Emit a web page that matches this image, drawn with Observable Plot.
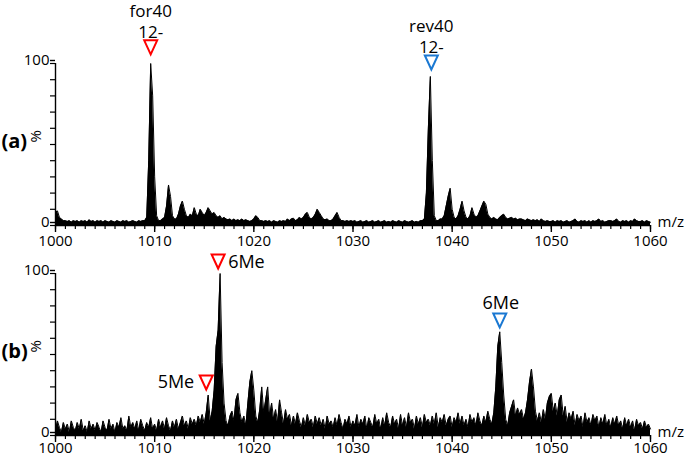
<!DOCTYPE html>
<html>
<head>
<meta charset="utf-8">
<script src="https://cdn.jsdelivr.net/npm/d3@7"></script>
<script src="https://cdn.jsdelivr.net/npm/@observablehq/plot@0.6"></script>
<style>
  html, body { margin: 0; padding: 0; background: white; }
  #chart { width: 685px; height: 457px; overflow: hidden; }
  #chart svg { display: block; overflow: visible; }
</style>
</head>
<body>
<div id="chart"></div>
<script>
// ---- data ----
const mzStart = 1000;
const mzStep = 0.2;

// Panel (a): relative intensity (%) every 0.2 m/z from 1000 to 1060
const intensityA = [
  8,9,5,4,3,          // 1000
  3,2.5,3,2,3,        // 1001
  2.5,3,2,3,2.5,      // 1002
  3,2,3.5,2.5,3,      // 1003
  2,3,2.5,3,2,        // 1004
  3,2.5,2,3,2.5,      // 1005
  2,3,2.5,2,3,        // 1006
  2.5,3,2,2.5,3,      // 1007
  2.5,2,3,2.5,3,      // 1008
  3,5,40,100,80,      // 1009
  30,6,3,3,4,         // 1010
  5,12,25,18,6,       // 1011
  4,4,7,12,15,        // 1012
  10,6,5,7,6,         // 1013
  11,7,6,10,8,        // 1014
  6,8,11,9,7,         // 1015
  8,6,5,6,4,          // 1016
  5,4,3.5,4,3,        // 1017
  4,3,3.5,3,4,        // 1018
  3,3.5,3,2.5,3,      // 1019
  4,6,5,3,3,          // 1020
  2.5,3,2.5,3,2,      // 1021
  3,2.5,2,3,2.5,      // 1022
  3,2.5,4,3,4,        // 1023
  4.5,3,3.5,5,4,      // 1024
  5,7,8,5,4,          // 1025
  5,7,10,8,6,         // 1026
  4,3.5,4,3,3,        // 1027
  4,6,8,5,3,          // 1028
  3,2.5,3,2.5,3,      // 1029
  2.5,3,2,2.5,3,      // 1030
  2,2.5,3,2,2.5,      // 1031
  3,2,2.5,3,2,        // 1032
  2.5,3,2,2.5,2,      // 1033
  3,2.5,2,3,2.5,      // 1034
  2,3,2.5,2,2.5,      // 1035
  3,2,2.5,2,3,        // 1036
  3,4,20,60,92,       // 1037
  40,6,3,3,4,         // 1038
  4,6,12,18,23,       // 1039
  10,5,4,6,10,        // 1040
  15,9,5,4,6,         // 1041
  11,7,5,6,9,         // 1042
  12,15,13,7,5,       // 1043
  4,5,4,3.5,5,        // 1044
  6,7,5,4,4.5,        // 1045
  5,4,4.5,3.5,4,      // 1046
  4,3.5,3,4,3.5,      // 1047
  3,3.5,3,3.5,2.5,    // 1048
  4,3,2.5,3,2.5,      // 1049
  2.5,3,2,3,2.5,      // 1050
  3,2,2.5,3,2,        // 1051
  2.5,3,4,2.5,2,      // 1052
  3,2.5,3,2,3,        // 1053
  2,3,2.5,3,4,        // 1054
  2.5,3,2,2.5,3,      // 1055
  3,2.5,3,4,2.5,      // 1056
  2,3,2.5,3,2,        // 1057
  3,2.5,4,3,2.5,      // 1058
  2.5,3,2,3,2.5,      // 1059
  2                   // 1060
];

// Panel (b): relative intensity (%) every 0.2 m/z from 1000 to 1060
const intensityB = [
  3,9,5,2,8,          // 1000
  4,7,2,9,5,          // 1001
  3,8,4,10,3,         // 1002
  6,2,9,4,7,          // 1003
  3,8,5,2,9,          // 1004
  5,3,10,4,7,         // 1005
  2,8,5,11,4,         // 1006
  6,3,12,5,8,         // 1007
  4,9,3,10,6,         // 1008
  3,8,5,11,4,         // 1009
  7,3,10,5,9,         // 1010
  4,11,6,3,9,         // 1011
  5,10,4,8,12,        // 1012
  6,9,4,11,7,         // 1013
  10,6,12,8,13,       // 1014
  7,14,25,9,15,       // 1015
  28,55,65,100,45,    // 1016
  20,9,6,12,15,       // 1017
  9,22,26,14,8,       // 1018
  12,6,20,33,40,      // 1019
  28,12,8,16,30,      // 1020
  14,22,30,12,20,     // 1021
  10,16,8,22,14,      // 1022
  7,16,10,13,6,       // 1023
  12,7,14,9,5,        // 1024
  11,6,13,8,10,       // 1025
  5,12,7,11,6,        // 1026
  10,4,12,7,9,        // 1027
  5,11,6,13,8,        // 1028
  4,10,7,12,5,        // 1029
  9,6,13,5,10,        // 1030
  7,12,4,11,8,        // 1031
  5,13,7,10,4,        // 1032
  11,6,14,8,5,        // 1033
  12,7,10,4,13,       // 1034
  6,11,5,14,8,        // 1035
  10,4,12,7,11,       // 1036
  5,13,8,10,6,        // 1037
  12,7,14,5,11,       // 1038
  8,13,6,10,12,       // 1039
  5,11,8,14,7,        // 1040
  12,6,10,5,13,       // 1041
  8,11,6,14,9,        // 1042
  6,12,8,15,10,       // 1043
  7,14,30,55,64,      // 1044
  45,25,10,6,14,      // 1045
  18,22,12,17,13,     // 1046
  16,10,14,22,33,     // 1047
  41,30,15,9,14,      // 1048
  8,16,10,20,24,      // 1049
  26,15,20,12,22,     // 1050
  25,12,18,8,14,      // 1051
  10,15,6,13,9,       // 1052
  12,5,14,8,11,       // 1053
  6,13,9,12,5,        // 1054
  11,7,13,6,10,       // 1055
  5,11,7,12,6,        // 1056
  9,4,11,6,10,        // 1057
  5,9,3,10,6,         // 1058
  8,4,9,5,7,          // 1059
  4                   // 1060
];

const xTicks = [1000, 1010, 1020, 1030, 1040, 1050, 1060];
const yTicks = [0, 100];
const yMinorTicks = [0, 10, 20, 30, 40, 50, 60, 70, 80, 90, 100];

// annotations: peak m/z, marker height (%), labels
const annA = [
  {mz: 1009.6, y: 110, name: "for40", charge: "12-", color: "red"},
  {mz: 1037.9, y: 100.6, name: "rev40", charge: "12-", color: "blue"}
];
const annB = [
  {mz: 1016.4, y: 107.4, label: "6Me", color: "red", side: "right"},
  {mz: 1015.2, y: 32.7, label: "5Me", color: "red", side: "left"},
  {mz: 1044.8, y: 71, label: "6Me", color: "blue", side: "top"}
];

// ---- drawing ----
const RED = "#ff0000";
const BLUE = "#1a78d2";
const FONT = "'Open Sans', sans-serif";

const toRows = arr => arr.map((v, i) => ({mz: +(mzStart + i * mzStep).toFixed(2), v}));
const xMinorTicks = d3.range(1000, 1061, 1);

const downTri = {
  draw(ctx) {
    const w = 6.5, h = 7;
    ctx.moveTo(0, h);
    ctx.lineTo(-w, -h);
    ctx.lineTo(w, -h);
    ctx.closePath();
  }
};

function panel(rows, {height, marginTop, marginBottom, tag, tickPadding, extra}) {
  return Plot.plot({
    width: 685,
    height,
    marginLeft: 55,
    marginRight: 35,
    marginTop,
    marginBottom,
    x: {domain: [1000, 1060]},
    y: {domain: [0, 100]},
    style: {fontFamily: FONT, fontSize: "15px", color: "black", background: "white", overflow: "visible"},
    marks: [
      Plot.areaY(rows, {x: "mz", y: "v", fill: "black"}),
      Plot.lineY(rows, {x: "mz", y: "v", stroke: "black", strokeWidth: 1}),
      Plot.ruleY([0], {x1: 1000, x2: 1060, stroke: "black", strokeWidth: 1.4}),
      Plot.ruleX([1000], {y1: 0, y2: 100, stroke: "black", strokeWidth: 1.4}),
      Plot.axisX({ticks: xTicks, tickSize: 7, tickPadding, tickFormat: d => String(d), label: null, strokeWidth: 1.4, fontSize: 15}),
      Plot.axisX({ticks: xMinorTicks, tickSize: 4, text: null, label: null, strokeWidth: 1.2}),
      Plot.axisY({ticks: yMinorTicks, tickSize: 5, text: null, label: null, strokeWidth: 1.2}),
      Plot.axisY({ticks: yTicks, tickSize: 5, tickPadding: 1, dy: -3, tickFormat: d => String(d), label: null, strokeWidth: 1.4, fontSize: 15}),
      Plot.text(["m/z"], {x: 1060, y: 0, dx: 7, dy: -3, textAnchor: "start", fontSize: 15}),
      Plot.text(["%"], {frameAnchor: "left", dx: -19, dy: -2, rotate: -90, fontSize: 15}),
      Plot.text([tag], {frameAnchor: "left", dx: -54, dy: -3, textAnchor: "start", fontSize: 20, fontWeight: "bold"}),
      ...extra
    ]
  });
}

function triangles(ann) {
  return [
    Plot.dot(ann.filter(d => d.color === "red"), {x: "mz", y: "y", symbol: downTri, r: 5, stroke: RED, fill: "white", strokeWidth: 2}),
    Plot.dot(ann.filter(d => d.color === "blue"), {x: "mz", y: "y", symbol: downTri, r: 5, stroke: BLUE, fill: "white", strokeWidth: 2})
  ];
}

const rowsA = toRows(intensityA);
const rowsB = toRows(intensityB);

const plotA = panel(rowsA, {
  height: 250, marginTop: 63, marginBottom: 25, tag: "(a)", tickPadding: 3,
  extra: [
    ...triangles(annA),
    Plot.text(annA, {x: "mz", y: "y", text: "charge", dy: -15, fontSize: 17}),
    Plot.text(annA, {x: "mz", y: "y", text: "name", dy: -36, fontSize: 17})
  ]
});

const plotB = panel(rowsB, {
  height: 207, marginTop: 23, marginBottom: 22, tag: "(b)", tickPadding: 0,
  extra: [
    ...triangles(annB),
    Plot.text(annB.filter(d => d.side === "right"), {x: "mz", y: "y", text: "label", dx: 10, dy: 1, textAnchor: "start", fontSize: 18}),
    Plot.text(annB.filter(d => d.side === "left"), {x: "mz", y: "y", text: "label", dx: -12, dy: 0, textAnchor: "end", fontSize: 18}),
    Plot.text(annB.filter(d => d.side === "top"), {x: "mz", y: "y", text: "label", dx: 1, dy: -17, fontSize: 18})
  ]
});

const chart = document.getElementById("chart");
chart.appendChild(plotA);
chart.appendChild(plotB);
</script>
</body>
</html>
